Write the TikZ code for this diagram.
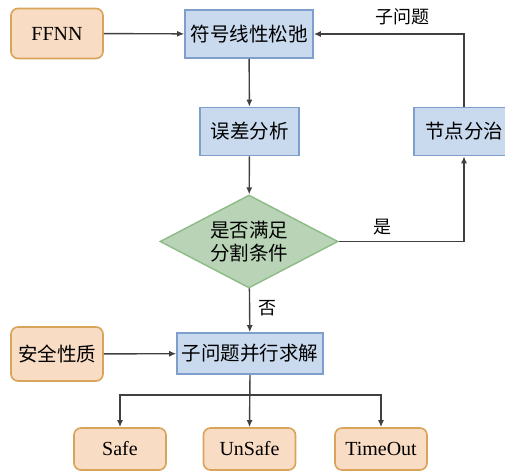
\documentclass[tikz,border=0pt]{standalone}
\usepackage{fontspec}
\setmainfont{Liberation Serif}
\newfontfamily\cjk{Noto Sans CJK SC}
\usetikzlibrary{shapes.geometric,arrows.meta}
\definecolor{ofill}{HTML}{F9DCC4}
\definecolor{odraw}{HTML}{D9A45A}
\definecolor{bfill}{HTML}{C9D9EE}
\definecolor{bdraw}{HTML}{7E9ECB}
\definecolor{gfill}{HTML}{B8D3B6}
\definecolor{gdraw}{HTML}{8DBB85}
\definecolor{lcol}{HTML}{404040}
\tikzset{
  obox/.style={draw=odraw,fill=ofill,line width=1.6pt,rounded corners=7pt,minimum width=#1,minimum height=50pt,inner sep=0pt,font=\fontsize{20}{22}\selectfont},
  obox/.default=92pt,
  bbox/.style={draw=bdraw,fill=bfill,line width=1.6pt,minimum height=48pt,inner sep=0pt,font=\cjk\fontsize{19.5}{22}\selectfont},
  gdia/.style={diamond,draw=gdraw,fill=gfill,line width=1.4pt,aspect=1.9,inner sep=0pt,minimum width=178pt,minimum height=93pt,align=center,font=\cjk\fontsize{19.5}{23}\selectfont},
  conn/.style={draw=lcol,line width=1.4pt,-{Latex[length=7pt,width=6pt]}},
  lab/.style={font=\cjk\fontsize{18}{20}\selectfont,text=black}
}
\begin{document}
\begin{tikzpicture}[x=1pt,y=-1pt]
\useasboundingbox (0,0) rectangle (505,471);
\begin{scope}
\clip (0,0) rectangle (505,471);
\node[obox] (ffnn) at (57,33.5) {FFNN};
\node[bbox,minimum width=128pt] (fh) at (249,34) {符号线性松弛};
\node[bbox,minimum width=99pt] (wc) at (249.5,131.5) {误差分析};
\node[bbox,minimum width=100pt] (jd) at (464,131.5) {节点分治};
\node[gdia] (dm) at (249,241.5) {是否满足\\分割条件};
\node[bbox,minimum width=146pt,minimum height=41pt] (zw) at (250,353.5) {子问题并行求解};
\node[obox,minimum height=54pt] (aq) at (57,354) {\cjk\fontsize{19.5}{22}\selectfont 安全性质};
\node[obox,minimum height=42pt] (safe) at (120,449) {Safe};
\node[obox,minimum height=42pt] (unsafe) at (249.5,449) {UnSafe};
\node[obox,minimum height=42pt] (to) at (381,449) {TimeOut};
\coordinate (br) at (250,395);
\draw[conn] (ffnn) -- (fh);
\draw[conn] (fh) -- (wc);
\draw[conn] (wc) -- (dm);
\draw[conn] (dm.east) -| (jd.south);
\draw[conn] (jd.north) |- (fh.east);
\draw[conn] (dm) -- (zw);
\draw[conn] (aq) -- (zw);
\draw[conn] (zw.south) -- (unsafe.north);
\draw[conn] (br) -| (safe.north);
\draw[conn] (br) -| (to.north);
\node[lab] (l1) at (402,17) {子问题};
\node[lab] (l2) at (382,227) {是};
\node[lab] (l3) at (267,308) {否};
\end{scope}
\end{tikzpicture}
\end{document}
